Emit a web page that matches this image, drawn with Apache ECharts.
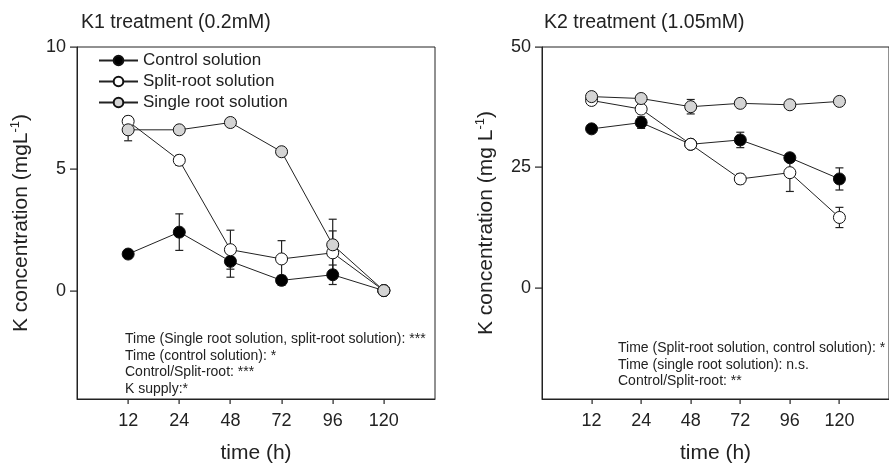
<!DOCTYPE html>
<html>
<head>
<meta charset="utf-8">
<script src="https://cdn.jsdelivr.net/npm/echarts@6/dist/echarts.min.js"></script>
<style>
  html, body { margin: 0; padding: 0; background: #fff; }
  #container { width: 889px; height: 469px; }
</style>
</head>
<body>
<div id="container"></div>
<script>
var times = ['12', '24', '48', '72', '96', '120'];
var names = ['Control solution', 'Split-root solution', 'Single root solution'];

// K1 panel values (mg/L) and error bar half-widths
var k1Control = [1.5, 2.4, 1.2, 0.42, 0.65, 0];
var k1ControlErr = [0, 0.75, 0.65, 0.2, 0.4, 0];
var k1Split = [6.95, 5.35, 1.68, 1.3, 1.55, 0];
var k1SplitErr = [0.2, 0.2, 0.8, 0.75, 0.9, 0];
var k1Single = [6.6, 6.6, 6.9, 5.7, 1.88, 0];
var k1SingleErr = [0.45, 0, 0, 0.15, 1.05, 0];

// K2 panel values
var k2Control = [33.0, 34.3, 29.8, 30.7, 27.0, 22.6];
var k2ControlErr = [0, 1.2, 0, 1.6, 0, 2.3];
var k2Split = [38.9, 37.1, 29.8, 22.6, 23.9, 14.6];
var k2SplitErr = [0, 0, 0, 1.0, 3.9, 2.1];
var k2Single = [39.7, 39.3, 37.6, 38.3, 38.0, 38.7];
var k2SingleErr = [0.5, 0, 1.5, 0, 0, 0];

var xTicks = [0, 1, 2, 3, 4, 5];
var k1Ticks = [0, 5, 10];
var k2Ticks = [0, 25, 50];
var k1Range = [-4.45, 10];
var k2Range = [-23.1, 50];

var k1Notes = [
    'Time (Single root solution, split-root solution): ***',
    'Time (control solution): *',
    'Control/Split-root: ***',
    'K supply:*'
];
var k2Notes = [
    'Time (Split-root solution, control solution): *',
    'Time (single root solution): n.s.',
    'Control/Split-root: **'
];

var fills = ['#000000', '#ffffff', '#d4d4d4'];
var font = '"Liberation Sans", Arial, sans-serif';

var dom = document.getElementById('container');
var myChart = echarts.init(dom);

function pts(vals) {
    return vals.map(function (v, i) { return [i, v]; });
}

function errData(vals, errs) {
    var out = [];
    for (var i = 0; i < vals.length; i++) {
        if (errs[i] > 0) out.push([i, vals[i] - errs[i], vals[i] + errs[i]]);
    }
    return out;
}

function renderErr(params, api) {
    var x = api.value(0);
    var lo = api.coord([x, api.value(1)]);
    var hi = api.coord([x, api.value(2)]);
    var cap = 4;
    var st = { stroke: '#222', lineWidth: 1.2 };
    return {
        type: 'group',
        children: [
            { type: 'line', shape: { x1: lo[0], y1: lo[1], x2: hi[0], y2: hi[1] }, style: st },
            { type: 'line', shape: { x1: lo[0] - cap, y1: lo[1], x2: lo[0] + cap, y2: lo[1] }, style: st },
            { type: 'line', shape: { x1: hi[0] - cap, y1: hi[1], x2: hi[0] + cap, y2: hi[1] }, style: st }
        ]
    };
}

function lineSeries(name, vals, idx, k) {
    return {
        name: name,
        type: 'line',
        xAxisIndex: idx,
        yAxisIndex: idx,
        data: pts(vals),
        symbol: 'circle',
        symbolSize: 12,
        z: 3,
        lineStyle: { color: '#222', width: 1 },
        itemStyle: { color: fills[k], borderColor: '#111', borderWidth: 1 },
        emphasis: { disabled: true }
    };
}

function errSeries(vals, errs, idx) {
    return {
        type: 'custom',
        xAxisIndex: idx,
        yAxisIndex: idx,
        data: errData(vals, errs),
        renderItem: renderErr,
        z: 2,
        silent: true
    };
}

function xAxis(idx) {
    return {
        type: 'value',
        gridIndex: idx,
        min: -1,
        max: 6,
        interval: 1,
        splitLine: { show: false },
        axisLine: { show: true, onZero: false, lineStyle: { color: '#222', width: 1 } },
        axisTick: { show: false },
        axisLabel: {
            customValues: xTicks,
            formatter: function (v) { return times[v] || ''; },
            color: '#222', fontSize: 18, fontFamily: font, margin: 13
        },
        name: 'time (h)',
        nameLocation: 'middle',
        nameGap: 44,
        nameTextStyle: { color: '#222', fontSize: 21, fontFamily: font }
    };
}

function yAxis(idx, range, ticks) {
    return {
        type: 'value',
        gridIndex: idx,
        min: range[0],
        max: range[1],
        splitLine: { show: false },
        axisLine: { show: true, onZero: false, lineStyle: { color: '#222', width: 1 } },
        axisTick: { show: false },
        axisLabel: { customValues: ticks, color: '#222', fontSize: 18, fontFamily: font, margin: 11 },
        name: idx === 0 ? '{a|K concentration (mgL}{s|-1}{a|)}' : '{a|K concentration (mg L}{s|-1}{a|)}',
        nameLocation: 'middle',
        nameGap: 44,
        nameTextStyle: {
            rich: {
                a: { fontSize: 21, fontFamily: font, color: '#222', lineHeight: 24 },
                s: { fontSize: 13, fontFamily: font, color: '#222', lineHeight: 24, verticalAlign: 'top', padding: [0, 0, 8, 0] }
            }
        }
    };
}

function noteText(id, lines, left, top) {
    return {
        id: id,
        type: 'text',
        left: left,
        top: top,
        style: { text: lines.join('\n'), fontSize: 14, lineHeight: 16.6, fontFamily: font, fill: '#222' }
    };
}

option = {
    animation: false,
    backgroundColor: '#fff',
    title: [
        { text: 'K1 treatment (0.2mM)', left: 76, top: 8, textStyle: { fontSize: 19.5, fontWeight: 'normal', color: '#222', fontFamily: font } },
        { text: 'K2 treatment (1.05mM)', left: 539, top: 8, textStyle: { fontSize: 19.5, fontWeight: 'normal', color: '#222', fontFamily: font } }
    ],
    legend: {
        data: names,
        orient: 'vertical',
        left: 93,
        top: 47,
        itemWidth: 39,
        itemHeight: 12,
        itemGap: 4,
        textStyle: { fontSize: 17, color: '#222', fontFamily: font },
        selectedMode: false
    },
    grid: [
        { left: 77, top: 47, width: 358, height: 353, show: true, borderColor: '#222', borderWidth: 1, backgroundColor: 'transparent' },
        { left: 542, top: 47, width: 358, height: 354, show: true, borderColor: '#222', borderWidth: 1, backgroundColor: 'transparent' }
    ],
    xAxis: [xAxis(0), xAxis(1)],
    yAxis: [yAxis(0, k1Range, k1Ticks), yAxis(1, k2Range, k2Ticks)],
    graphic: [noteText('n1', k1Notes, 125, 331), noteText('n2', k2Notes, 618, 340)],
    series: [
        errSeries(k1Control, k1ControlErr, 0),
        errSeries(k1Split, k1SplitErr, 0),
        errSeries(k1Single, k1SingleErr, 0),
        lineSeries(names[0], k1Control, 0, 0),
        lineSeries(names[1], k1Split, 0, 1),
        lineSeries(names[2], k1Single, 0, 2),
        errSeries(k2Control, k2ControlErr, 1),
        errSeries(k2Split, k2SplitErr, 1),
        errSeries(k2Single, k2SingleErr, 1),
        lineSeries(names[0], k2Control, 1, 0),
        lineSeries(names[1], k2Split, 1, 1),
        lineSeries(names[2], k2Single, 1, 2)
    ]
};

if (option && typeof option === 'object') {
    myChart.setOption(option, true);
}

// outward ticks as thin filled rects, placed through the axes' own scales
function addTicks() {
    var els = [];
    [[0, k1Ticks, k1Range], [1, k2Ticks, k2Range]].forEach(function (p) {
        var finder = { xAxisIndex: p[0], yAxisIndex: p[0] };
        xTicks.forEach(function (v, i) {
            var pt = myChart.convertToPixel(finder, [v, p[2][0]]);
            if (!pt || isNaN(pt[0])) return;
            els.push({ id: 'tx' + p[0] + '_' + i, type: 'rect', z: 100, silent: true,
                shape: { x: Math.round(pt[0]) - 0.5, y: Math.round(pt[1]), width: 1.2, height: 5 },
                style: { fill: '#222' } });
        });
        p[1].forEach(function (v, i) {
            var pt = myChart.convertToPixel(finder, [-1, v]);
            if (!pt || isNaN(pt[1])) return;
            els.push({ id: 'ty' + p[0] + '_' + i, type: 'rect', z: 100, silent: true,
                shape: { x: Math.round(pt[0]) - 7, y: Math.round(pt[1]) - 0.5, width: 7, height: 1.2 },
                style: { fill: '#222' } });
        });
    });
    myChart.setOption({ graphic: els });
}
addTicks();
</script>
</body>
</html>
